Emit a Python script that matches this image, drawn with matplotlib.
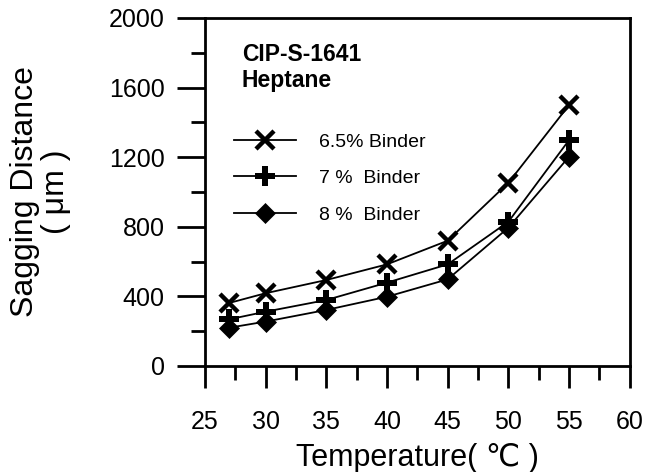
import matplotlib
matplotlib.use("Agg")
import matplotlib.pyplot as plt
from matplotlib.ticker import MultipleLocator

plt.rcParams["font.family"] = ["Liberation Sans", "DejaVu Sans"]

temperature = [27, 30, 35, 40, 45, 50, 55]
binder_65 = [362, 418, 494, 584, 720, 1053, 1500]
binder_7 = [268, 312, 379, 479, 584, 829, 1299]
binder_8 = [220, 255, 322, 398, 498, 795, 1203]
series_labels = ["6.5% Binder", "7 %  Binder", "8 %  Binder"]

fig = plt.figure(figsize=(6.46, 4.72), dpi=100)
ax = fig.add_axes([0.317, 0.2246, 0.658, 0.7373])

ax.plot(temperature, binder_65, color="black", lw=1.3, marker="x",
        ms=13, mew=3.2, label=series_labels[0])
ax.plot(temperature, binder_7, color="black", lw=1.3, marker="P",
        ms=14, mew=0, label=series_labels[1])
ax.plot(temperature, binder_8, color="black", lw=1.3, marker="D",
        ms=10, mew=0.5, label=series_labels[2])

ax.set_xlim(25, 60)
ax.set_ylim(0, 2000)
ax.xaxis.set_major_locator(MultipleLocator(5))
ax.xaxis.set_minor_locator(MultipleLocator(2.5))
ax.yaxis.set_major_locator(MultipleLocator(400))
ax.yaxis.set_minor_locator(MultipleLocator(200))

for s in ax.spines.values():
    s.set_linewidth(2)
ax.tick_params(axis="x", which="major", direction="out", length=16, width=2,
               pad=16, labelsize=18)
ax.tick_params(axis="x", which="minor", direction="out", length=10, width=2)
ax.tick_params(axis="y", which="major", direction="out", length=20, width=2,
               pad=9, labelsize=18)
ax.tick_params(axis="y", which="minor", direction="out", length=10, width=2)

ax.set_xlabel("Temperature( \u2103 )", fontsize=22, labelpad=6)
ax.set_ylabel("Sagging Distance\n( \u03bcm )", fontsize=23, labelpad=27,
              linespacing=1.05)

ax.text(0.087, 0.876, "CIP-S-1641", transform=ax.transAxes,
        fontsize=16.5, fontweight="bold", va="baseline")
ax.text(0.087, 0.802, "Heptane", transform=ax.transAxes,
        fontsize=16.5, fontweight="bold", va="baseline")

ax.legend(loc="upper left", bbox_to_anchor=(0.05, 0.692), frameon=False,
          fontsize=14, handlelength=3.2, handletextpad=1.2,
          labelspacing=0.98, borderaxespad=0)

fig.savefig("out.png", dpi=100)
